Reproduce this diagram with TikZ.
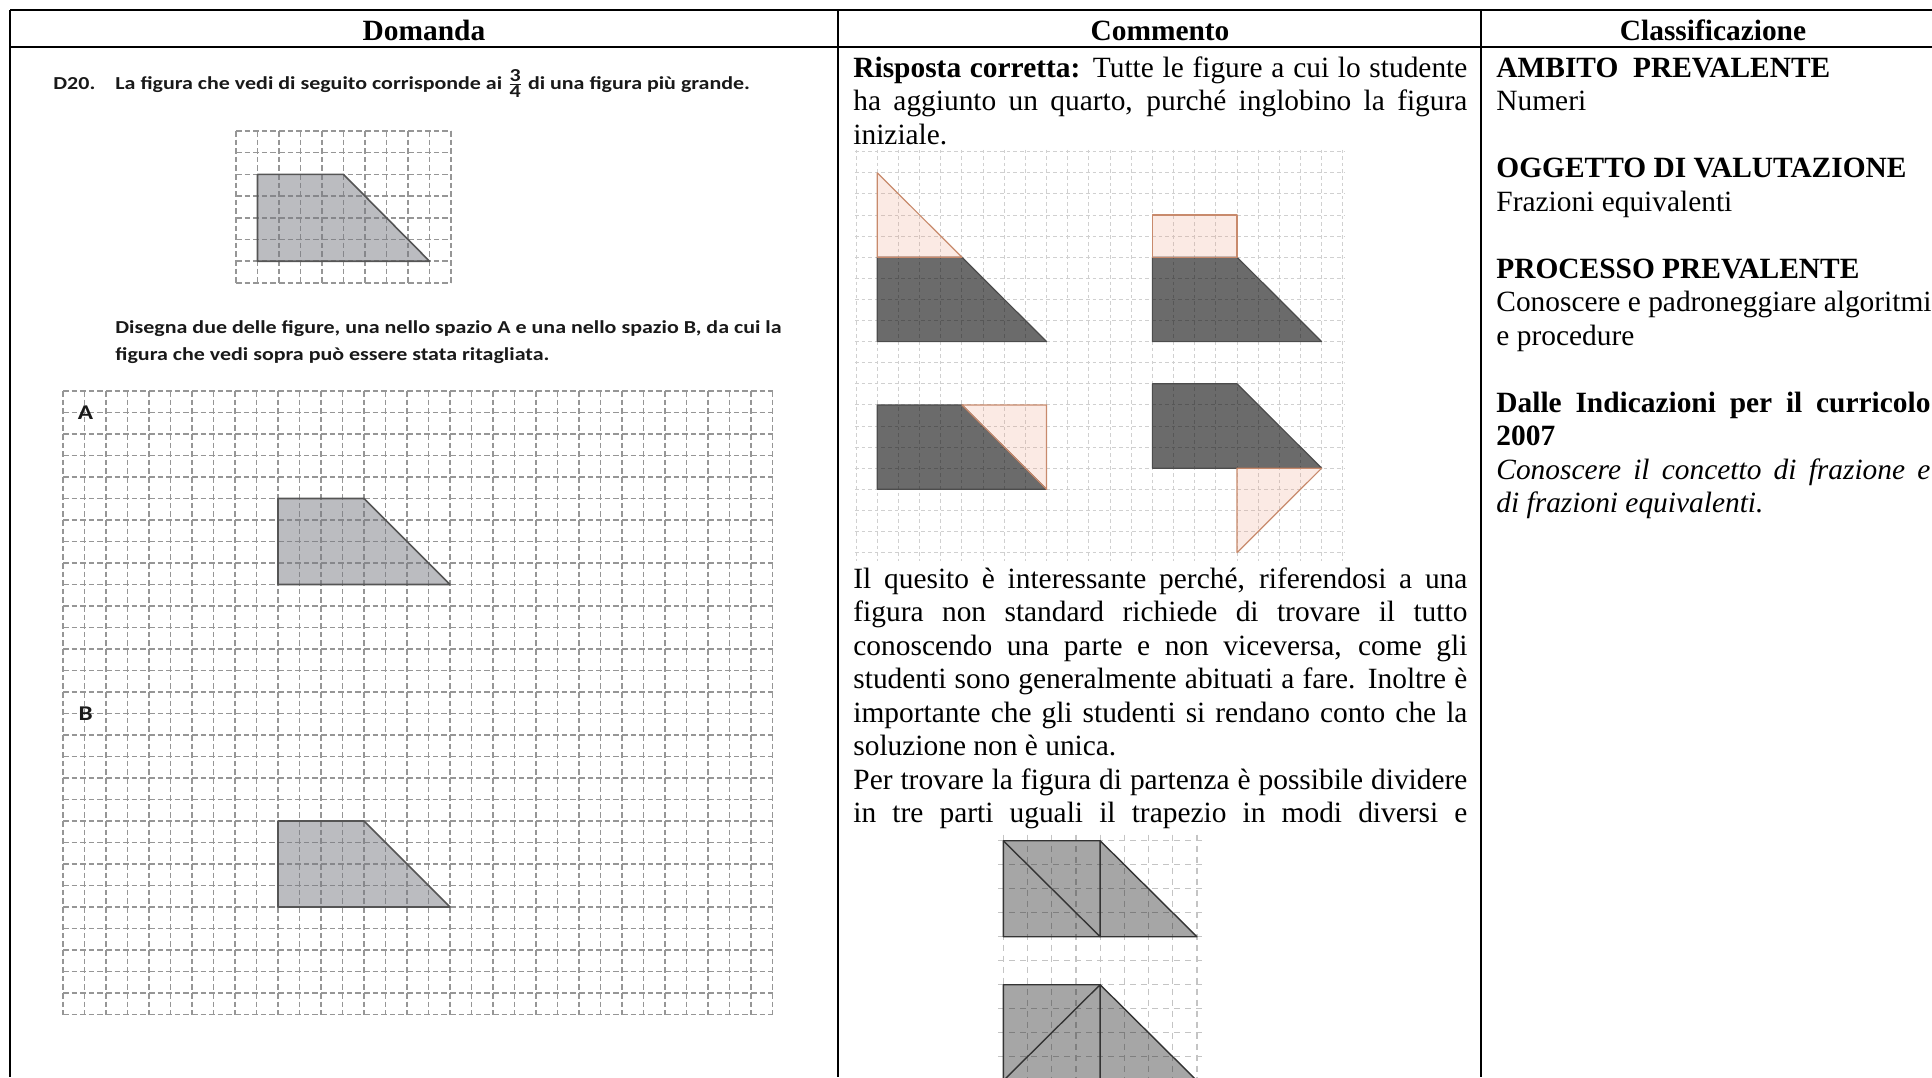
\documentclass[tikz,border=0pt]{standalone}
\usepackage{fontspec}
\setmainfont{Liberation Serif}
\newfontfamily\calibri[FakeStretch=1.2]{Carlito}
\usetikzlibrary{positioning}
\definecolor{qline}{RGB}{150,150,150}
\definecolor{qedge}{RGB}{85,85,85}
\definecolor{cline}{RGB}{208,208,208}
\definecolor{pinkedge}{RGB}{200,138,108}
\definecolor{pinkbase}{RGB}{235,150,120}
\definecolor{lline}{RGB}{196,196,196}
\newcommand{\jline}[1]{\makebox[\linewidth][s]{#1}\par}
\newcommand{\pline}[1]{\mbox{#1}\par}

\begin{document}
\begin{tikzpicture}[x=0.5pt, y=-0.5pt, line join=round,
    rule/.style={line width=1.4pt},
    headtext/.style={inner sep=0pt, font=\bfseries\fontsize{14.7}{16.75}\selectfont},
    ctext/.style={inner sep=0pt, font=\fontsize{14.7}{16.75}\selectfont},
    qtext/.style={inner sep=0pt, text=black!90, font=\calibri\bfseries\fontsize{9.15}{13.5}\selectfont},
    qlabel/.style={inner sep=0pt, text=black!90, font=\calibri\bfseries\fontsize{10.5}{12}\selectfont},
    qgrid/.style={draw=qline, line width=0.75pt, dash pattern=on 2.8pt off 1.5pt},
    qpiece/.style={draw=qedge, line width=0.8pt, fill={rgb,255:red,120;green,122;blue,130}, fill opacity=0.5},
    cgrid/.style={draw=cline, line width=0.5pt, dash pattern=on 1.8pt off 1.5pt},
    darkpiece/.style={draw=black!70, line width=0.6pt, fill=black, fill opacity=0.58},
    pinkpiece/.style={draw=pinkedge, line width=0.6pt, fill=pinkbase, fill opacity=0.2},
    lgrid/.style={draw=lline, line width=0.6pt, dash pattern=on 3pt off 2.5pt},
    lpiece/.style={draw=black!80, line width=0.7pt, fill=black, fill opacity=0.35}]
    \useasboundingbox (0,0) rectangle (1932,1077);

    % table rules
    \draw[rule] (10,10) -- (1932,10);
    \draw[rule] (10,47) -- (1932,47);
    \draw[rule] (10,10) -- (10,1077);
    \draw[rule] (838,10) -- (838,1077);
    \draw[rule] (1481,10) -- (1481,1077);

    \node[headtext, anchor=base] (hdom) at (424,40) {Domanda};
    \node[headtext, anchor=base] (hcom) at (1160,40) {Commento};
    \node[headtext, anchor=base] (hcla) at (1713,40) {Classificazione};

    % question
    \node[qtext, anchor=base west] (qnum) at (53,89) {D20.};
    \node[qtext, anchor=base west] (qline) at (115,89) {La figura che vedi di seguito corrisponde ai $\frac{\mbox{3}}{\mbox{4}}$ di una figura più grande.};

    \begin{scope}[shift={(236,131)}, x=10.75pt, y=-10.85pt]
        \foreach \i in {0,...,10} \draw[qgrid] (\i,0) -- (\i,7);
        \foreach \j in {0,...,7} \draw[qgrid] (0,\j) -- (10,\j);
        \filldraw[qpiece] (1,2) -- (5,2) -- (9,6) -- (1,6) -- cycle;
    \end{scope}

    \node[qtext, anchor=base west] (qtask) at (115,333) {\parbox[t]{400pt}{Disegna due delle figure, una nello spazio A e una nello spazio B, da cui la\\
    figura che vedi sopra può essere stata ritagliata.}};

    \begin{scope}[shift={(63,391)}, x=10.75pt, y=-10.75pt]
        \foreach \i in {0,...,33} \draw[qgrid] (\i,0) -- (\i,29);
        \foreach \j in {0,...,29} \draw[qgrid] (0,\j) -- (33,\j);
        \filldraw[qpiece] (10,5) -- (14,5) -- (18,9) -- (10,9) -- cycle;
        \filldraw[qpiece] (10,20) -- (14,20) -- (18,24) -- (10,24) -- cycle;
        \node[qlabel] (labA) at (1.05,1) {A};
        \node[qlabel] (labB) at (1.05,15) {B};
    \end{scope}

    % comment
    \node[ctext, anchor=base west] (risp) at (853,77) {\parbox[t]{307pt}{%
        \jline{\textbf{Risposta corretta:} Tutte le figure a cui lo studente}
        \jline{ha aggiunto un quarto, purché inglobino la figura}
        \pline{iniziale.}}};

    \begin{scope}[shift={(877.3,151.7)}, x=10.58pt, y=-10.55pt]
        \foreach \k in {-1,...,22} \draw[cgrid] (\k,-0.1) -- (\k,19.4);
        \foreach \j in {0,...,19} \draw[cgrid] (-1.05,\j) -- (22.1,\j);
        \filldraw[darkpiece] (0,5) -- (4,5) -- (8,9) -- (0,9) -- cycle;
        \filldraw[pinkpiece] (0,1) -- (4,5) -- (0,5) -- cycle;
        \filldraw[darkpiece] (13,5) -- (17,5) -- (21,9) -- (13,9) -- cycle;
        \filldraw[pinkpiece] (13,3) rectangle (17,5);
        \filldraw[darkpiece] (0,12) -- (4,12) -- (8,16) -- (0,16) -- cycle;
        \filldraw[pinkpiece] (4,12) -- (8,12) -- (8,16) -- cycle;
        \filldraw[darkpiece] (13,11) -- (17,11) -- (21,15) -- (13,15) -- cycle;
        \filldraw[pinkpiece] (17,15) -- (21,15) -- (17,19) -- cycle;
    \end{scope}

    \node[ctext, anchor=base west] (quesito) at (853,588) {\parbox[t]{307pt}{%
        \jline{Il quesito è interessante perché, riferendosi a una}
        \jline{figura non standard richiede di trovare il tutto}
        \jline{conoscendo una parte e non viceversa, come gli}
        \jline{studenti sono generalmente abituati a fare. Inoltre è}
        \jline{importante che gli studenti si rendano conto che la}
        \pline{soluzione non è unica.}
        \jline{Per trovare la figura di partenza è possibile dividere}
        \jline{in tre parti uguali il trapezio in modi diversi e}}};

    \begin{scope}[shift={(1003.3,840.7)}, x=12.1pt, y=-12pt]
        \foreach \k in {0,...,8} \draw[lgrid] (\k,-0.25) -- (\k,10);
        \foreach \j in {0,...,10} \draw[lgrid] (-0.2,\j) -- (8.2,\j);
        \filldraw[lpiece] (0,0) -- (4,0) -- (8,4) -- (0,4) -- cycle;
        \draw[lpiece, fill=none] (0,0) -- (4,4) -- (4,0);
        \filldraw[lpiece] (0,6) -- (4,6) -- (8,10) -- (0,10) -- cycle;
        \draw[lpiece, fill=none] (0,10) -- (4,6) -- (4,10);
    \end{scope}

    % classification
    \node[ctext, anchor=base west] (clas) at (1496,77) {\parbox[t]{217pt}{%
        \pline{\textbf{AMBITO\ \ PREVALENTE}}
        \pline{Numeri}
        \pline{}
        \pline{\textbf{OGGETTO DI VALUTAZIONE}}
        \pline{Frazioni equivalenti}
        \pline{}
        \pline{\textbf{PROCESSO PREVALENTE}}
        \pline{Conoscere e padroneggiare algoritmi}
        \pline{e procedure}
        \pline{}
        \jline{\textbf{Dalle Indicazioni per il curricolo}}
        \pline{\textbf{2007}}
        \jline{\itshape Conoscere il concetto di frazione e}
        \pline{\itshape di frazioni equivalenti.}}};
\end{tikzpicture}
\end{document}
